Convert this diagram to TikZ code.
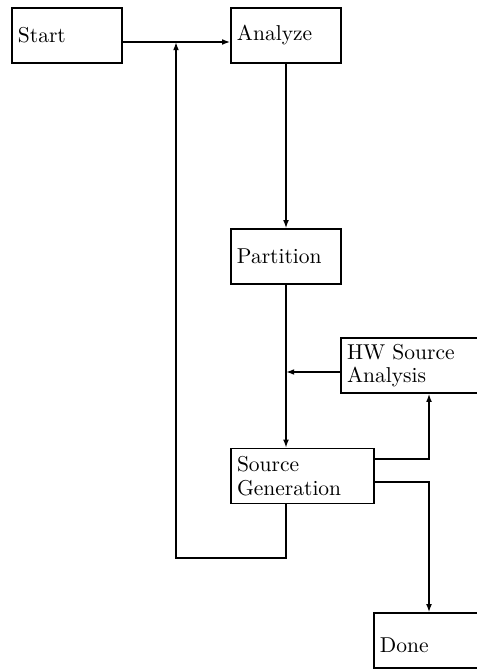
\documentclass[tikz,border=0pt]{standalone}
\usepackage{fontspec}
\usetikzlibrary{arrows.meta,calc}
\begin{document}
\begin{tikzpicture}[x=0.465pt,y=-0.465pt,
  font=\fontsize{10}{11}\selectfont,
  box/.style={draw, line width=0.65pt, rectangle, inner xsep=2.8pt, inner ysep=0pt,
    align=left, minimum height=25.6pt},
  narrow/.style={box, text width=45.6pt},
  wide/.style={box, text width=60.9pt},
  flow/.style={line width=0.65pt, -{Latex[length=3.8pt,width=2.7pt]}}]
  \useasboundingbox (0,0) rectangle (477,669);
  \fill[white] (0,0) rectangle (477,669);
  \clip (0,0) rectangle (477,669);

  % process steps
  \node[narrow] (start)     at (67,35.5)   {Start};
  \node[narrow] (analyze)   at (286,35.5)  {Analyze};
  \node[narrow] (partition) at (286,256.5) {Partition};
  \node[wide]   (hw)        at (412.5,365.5) {HW Source\\Analysis};
  \node[wide]   (srcgen)    at (302.5,476) {Source\\Generation};
  \node[narrow] (done)      at (429,640.5) {\mbox{}\\Done};

  % junction points on the main path
  \coordinate (j0) at (176,42);
  \coordinate (j1) at (286,372);
  \coordinate (loop) at (286,558);

  % main flow
  \draw[flow] ($(start.east)+(0,6.5)$) -- ($(analyze.west)+(0,6.5)$);
  \draw[flow] (analyze.south) -- (partition.north);
  \draw[flow] (partition.south) -- (partition.south |- srcgen.north);
  \draw[flow] ($(hw.west)+(0,6.5)$) -- (j1);

  % outputs of source generation
  \draw[flow] ($(srcgen.east)+(0,-17)$) -| (hw.south -| done.north);
  \draw[flow] ($(srcgen.east)+(0,6)$) -| (done.north);

  % feedback loop back to analysis
  \draw[flow] (partition.south |- srcgen.south) -- (loop) -- (loop -| j0) -- (j0);
\end{tikzpicture}
\end{document}
